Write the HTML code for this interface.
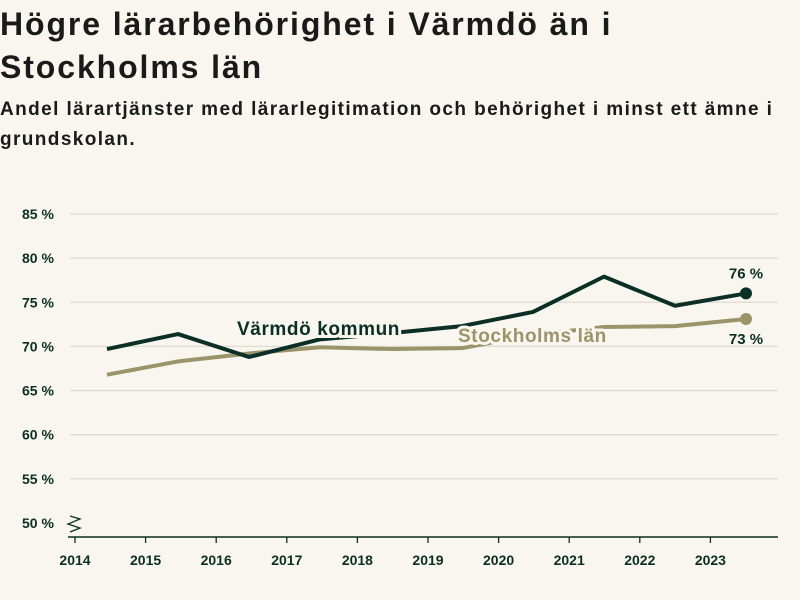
<!DOCTYPE html>
<html><head><meta charset="utf-8"><style>
body{margin:0;background:#f8f6ee;font-family:"Liberation Sans",sans-serif;color:#1a1a1a}
#wrap{position:relative;width:800px;height:600px;overflow:hidden}
h1{position:absolute;left:0;top:3px;margin:0;font-size:32px;font-weight:600;line-height:43px;letter-spacing:1.9px}
h2{position:absolute;left:0;top:95px;margin:0;font-size:19px;font-weight:600;line-height:30px;letter-spacing:1.4px}
svg{position:absolute;left:0;top:0}
</style></head><body>
<div id="wrap">
<h1>Högre lärarbehörighet i Värmdö än i<br>Stockholms län</h1>
<h2>Andel lärartjänster med lärarlegitimation och behörighet i minst ett ämne i<br>grundskolan.</h2>
<svg id="chart" width="800" height="600"></svg>
</div>
<script>
const years=[2014.5,2015.5,2016.5,2017.5,2018.5,2019.5,2020.5,2021.5,2022.5,2023.5];
const varmdo=[69.7,71.4,68.8,70.8,71.5,72.3,73.9,77.9,74.6,76.0];
const stockholm=[66.8,68.3,69.2,69.9,69.7,69.8,71.3,72.2,72.3,73.1];
const yTicks=[50,55,60,65,70,75,80,85];
const xTicks=[2014,2015,2016,2017,2018,2019,2020,2021,2022,2023];
const NS="http://www.w3.org/2000/svg";
const svg=document.getElementById('chart');
const x=v=>107+(v-2014.5)*71;
const xt=v=>75+(v-2014)*70.6;
const y=v=>523-(v-50)*8.83;
function el(t,a,p){const e=document.createElementNS(NS,t);for(const k in a)e.setAttribute(k,a[k]);(p||svg).appendChild(e);return e;}
yTicks.forEach(t=>{
 if(t>50){const l=el('line',{x1:70,x2:778,y1:y(t),y2:y(t),stroke:'#dddbd2','stroke-width':1.3});
 
 }
 const tx=el('text',{x:22,y:y(t)+5,'font-size':14,'font-weight':600,fill:'#0b2e26'});tx.textContent=t+' %';
 
 
});
const ax=el('line',{x1:68,x2:778,y1:537,y2:537,stroke:'#0b2e26','stroke-width':1.5});


const br=el('path',{d:'M70 516 L80 519 L68 524 L80 528 L70 532',fill:'none',stroke:'#0b2e26','stroke-width':1.3});


xTicks.forEach(t=>{
 const l=el('line',{x1:xt(t),x2:xt(t),y1:537,y2:543,stroke:'#0b2e26','stroke-width':1.3});
 
 
 const tx=el('text',{x:xt(t),y:565,'font-size':14,'font-weight':600,fill:'#0b2e26','text-anchor':'middle'});tx.textContent=t;
 
 
});
function series(data,color,name){
 const p=el('polyline',{points:data.map((v,i)=>x(years[i])+','+y(v)).join(' '),fill:'none',stroke:color,'stroke-width':4,'stroke-linejoin':'round'});
 
 
 const n=data.length-1;
 const c=el('circle',{cx:x(years[n]),cy:y(data[n]),r:6,fill:color});
 
 
}
series(stockholm,'#9b946a','stockholm');
function label(txt,lx,ly,color,name){
 const t=el('text',{x:lx,y:ly,'font-size':19,'font-weight':600,'letter-spacing':0.6,fill:color,stroke:'#f8f6ee','stroke-width':6,'paint-order':'stroke'});t.textContent=txt;
 
 
}
series(varmdo,'#0b2e26','varmdo');
label('Stockholms län',458,342,'#9b946a','stockholm-label');
label('Värmdö kommun',237,335,'#0b2e26','varmdo-label');
const n=years.length-1;
const v1=el('text',{x:x(years[n]),y:y(varmdo[n])-15,'font-size':15,'font-weight':600,fill:'#0b2e26','text-anchor':'middle'});v1.textContent=Math.round(varmdo[n])+' %';


const v2=el('text',{x:x(years[n]),y:y(stockholm[n])+25,'font-size':15,'font-weight':600,fill:'#0b2e26','text-anchor':'middle'});v2.textContent=Math.round(stockholm[n])+' %';


</script>
</body></html>
